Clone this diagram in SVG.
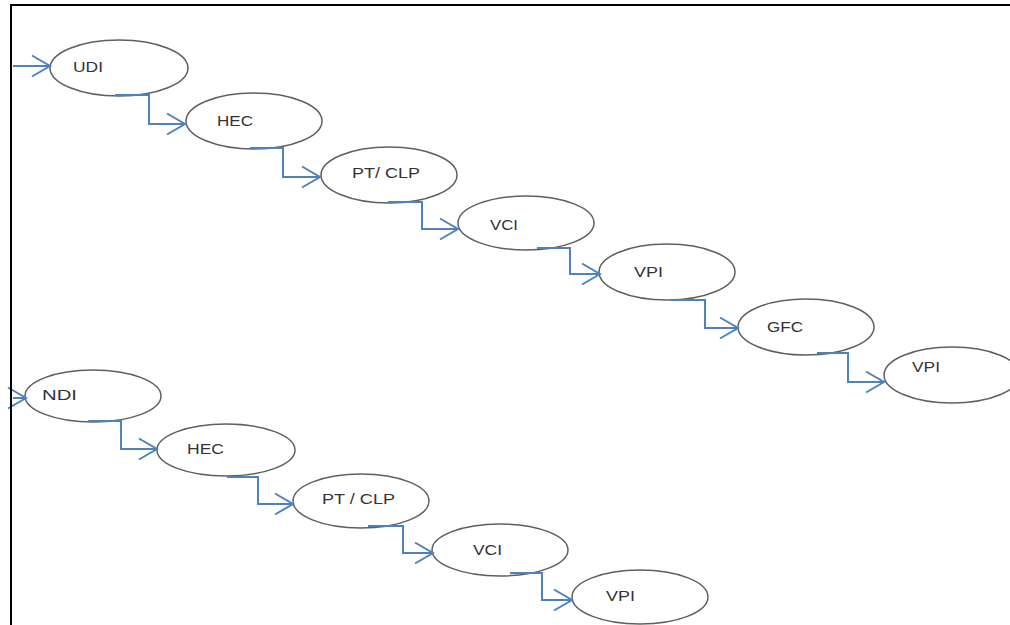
<svg xmlns="http://www.w3.org/2000/svg" width="1010" height="625" viewBox="0 0 1010 625">
  <style>
    .node ellipse { fill: #ffffff; stroke: #5f5f5f; stroke-width: 1.5; }
    .node text { font-family: "Liberation Sans", Arial, sans-serif; font-size: 14px; fill: #333333; }
    .wire { fill: none; stroke: #4f81bd; stroke-width: 2; marker-end: url(#chevron); }
    .frame { fill: none; stroke: #000000; stroke-width: 2; }
  </style>
  <defs>
    <marker id="chevron" markerUnits="userSpaceOnUse" viewBox="-20 -13 22 26" markerWidth="22" markerHeight="26" refX="0" refY="0" orient="auto" overflow="visible">
      <path d="M-18,-10.5 L0,0 L-18,10.5" fill="none" stroke="#4f81bd" stroke-width="2"/>
    </marker>
  </defs>
  <rect width="1010" height="625" fill="#ffffff"/>

  <!-- upper chain -->
  <g id="udi" class="node"><ellipse cx="119" cy="68" rx="69" ry="28"/><text x="73" y="72" textLength="30" lengthAdjust="spacingAndGlyphs">UDI</text></g>
  <g id="hec-1" class="node"><ellipse cx="254" cy="121" rx="68" ry="28"/><text x="217" y="126" textLength="36" lengthAdjust="spacingAndGlyphs">HEC</text></g>
  <g id="ptclp-1" class="node"><ellipse cx="389" cy="175" rx="68" ry="28"/><text x="352" y="178" textLength="68" lengthAdjust="spacingAndGlyphs">PT/ CLP</text></g>
  <g id="vci-1" class="node"><ellipse cx="526" cy="223" rx="68" ry="27"/><text x="490" y="230" textLength="28" lengthAdjust="spacingAndGlyphs">VCI</text></g>
  <g id="vpi-1" class="node"><ellipse cx="667" cy="272" rx="68" ry="28"/><text x="634" y="277" textLength="29" lengthAdjust="spacingAndGlyphs">VPI</text></g>
  <g id="gfc" class="node"><ellipse cx="806" cy="327" rx="68" ry="28"/><text x="767" y="332" textLength="36" lengthAdjust="spacingAndGlyphs">GFC</text></g>
  <g id="vpi-2" class="node"><ellipse cx="952" cy="375" rx="68" ry="28"/><text x="912" y="372" textLength="28" lengthAdjust="spacingAndGlyphs">VPI</text></g>

  <!-- lower chain -->
  <g id="ndi" class="node"><ellipse cx="93" cy="396" rx="68" ry="26"/><text x="42" y="400" textLength="35" lengthAdjust="spacingAndGlyphs">NDI</text></g>
  <g id="hec-2" class="node"><ellipse cx="226" cy="450" rx="69" ry="26"/><text x="187" y="454" textLength="37" lengthAdjust="spacingAndGlyphs">HEC</text></g>
  <g id="ptclp-2" class="node"><ellipse cx="361" cy="501" rx="68" ry="27"/><text x="322" y="504" textLength="73" lengthAdjust="spacingAndGlyphs">PT / CLP</text></g>
  <g id="vci-2" class="node"><ellipse cx="500" cy="550" rx="68" ry="26"/><text x="473" y="555" textLength="29" lengthAdjust="spacingAndGlyphs">VCI</text></g>
  <g id="vpi-3" class="node"><ellipse cx="640" cy="597" rx="68" ry="27"/><text x="606" y="601" textLength="29" lengthAdjust="spacingAndGlyphs">VPI</text></g>

  <!-- connectors -->
  <g id="connectors">
    <path class="wire" d="M13,66 H50"/>
    <path class="wire" d="M115,95 H149 V124 H185"/>
    <path class="wire" d="M250,148 H283 V177 H320"/>
    <path class="wire" d="M388,202 H422 V229 H458"/>
    <path class="wire" d="M537,248 H570 V274 H600"/>
    <path class="wire" d="M670,300 H705 V328 H738"/>
    <path class="wire" d="M817,353 H848 V382 H884"/>
    <path class="wire" d="M13,398 H26"/>
    <path class="wire" d="M88,421 H121 V449 H157"/>
    <path class="wire" d="M227,477 H258 V504 H293"/>
    <path class="wire" d="M368,526 H403 V553 H433"/>
    <path class="wire" d="M510,573 H542 V600 H572"/>
  </g>

  <!-- figure frame -->
  <path class="frame" d="M11,625 V5 H1010"/>
</svg>
